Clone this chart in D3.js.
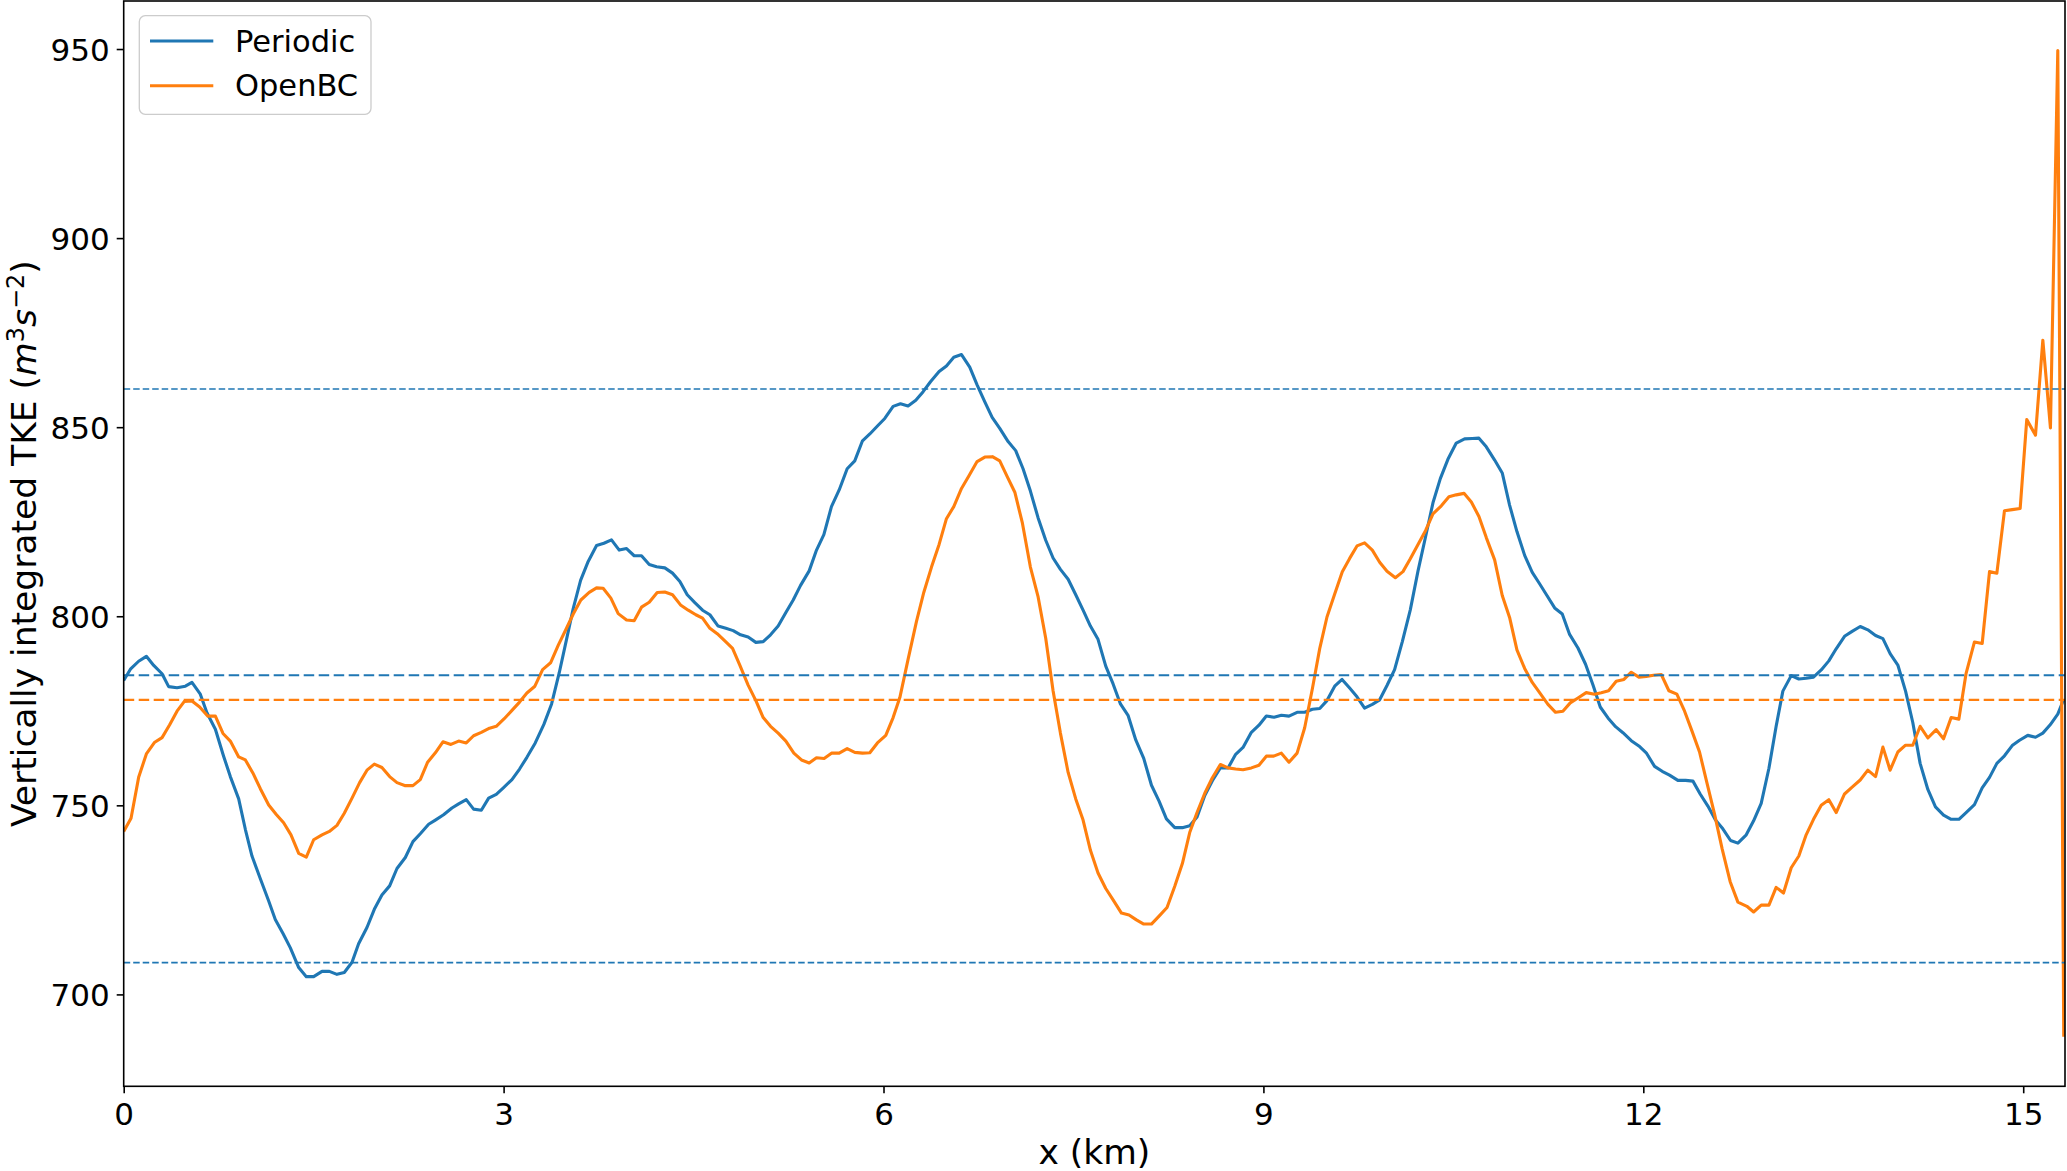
<!DOCTYPE html>
<html>
<head>
<meta charset="utf-8">
<script src="https://cdn.jsdelivr.net/npm/d3@7"></script>
<style>
  body { margin: 0; background: #fff; }
  text { font-family: "DejaVu Sans", sans-serif; fill: #000; }
</style>
</head>
<body>
<div id="chart"></div>
<script>
// Data: x in km, TKE in m^3 s^-2
const periodicX = [0, 0.053, 0.118, 0.179, 0.237, 0.303, 0.355, 0.421, 0.487, 0.539, 0.605, 0.658, 0.724, 0.789, 0.842, 0.908, 0.961, 1.013, 1.079, 1.145, 1.197, 1.258, 1.316, 1.382, 1.442, 1.5, 1.566, 1.624, 1.684, 1.742, 1.803, 1.855, 1.921, 1.979, 2.039, 2.1, 2.158, 2.224, 2.284, 2.342, 2.408, 2.461, 2.526, 2.592, 2.645, 2.705, 2.763, 2.824, 2.882, 2.942, 3.0, 3.066, 3.126, 3.184, 3.25, 3.318, 3.379, 3.439, 3.497, 3.55, 3.608, 3.668, 3.734, 3.792, 3.852, 3.913, 3.971, 4.031, 4.089, 4.15, 4.208, 4.273, 4.334, 4.392, 4.45, 4.51, 4.571, 4.629, 4.694, 4.755, 4.813, 4.871, 4.931, 4.992, 5.05, 5.108, 5.168, 5.229, 5.287, 5.344, 5.413, 5.471, 5.529, 5.589, 5.65, 5.713, 5.773, 5.834, 5.892, 5.952, 6.01, 6.076, 6.134, 6.194, 6.255, 6.313, 6.371, 6.439, 6.497, 6.555, 6.616, 6.681, 6.739, 6.8, 6.858, 6.918, 6.984, 7.044, 7.102, 7.16, 7.221, 7.281, 7.339, 7.397, 7.458, 7.518, 7.576, 7.634, 7.694, 7.755, 7.813, 7.871, 7.931, 7.992, 8.055, 8.116, 8.176, 8.234, 8.3, 8.36, 8.418, 8.476, 8.537, 8.597, 8.66, 8.721, 8.781, 8.839, 8.905, 8.965, 9.023, 9.084, 9.142, 9.202, 9.266, 9.326, 9.387, 9.445, 9.502, 9.563, 9.621, 9.681, 9.739, 9.799, 9.86, 9.918, 9.976, 10.036, 10.097, 10.16, 10.221, 10.281, 10.339, 10.397, 10.457, 10.523, 10.589, 10.649, 10.702, 10.76, 10.826, 10.886, 10.944, 11.002, 11.063, 11.123, 11.181, 11.239, 11.3, 11.36, 11.418, 11.484, 11.544, 11.602, 11.66, 11.721, 11.781, 11.839, 11.905, 11.965, 12.023, 12.089, 12.149, 12.207, 12.273, 12.334, 12.392, 12.449, 12.51, 12.57, 12.628, 12.689, 12.747, 12.813, 12.871, 12.931, 12.992, 13.049, 13.102, 13.168, 13.228, 13.286, 13.344, 13.405, 13.465, 13.523, 13.589, 13.649, 13.713, 13.773, 13.834, 13.892, 13.949, 14.01, 14.071, 14.128, 14.186, 14.247, 14.307, 14.371, 14.431, 14.492, 14.549, 14.615, 14.676, 14.734, 14.792, 14.852, 14.913, 14.971, 15.036, 15.097, 15.155, 15.213, 15.273, 15.32];
const periodicTKE = [783.0, 786.0, 788.1, 789.4, 787.0, 784.8, 781.4, 781.1, 781.5, 782.5, 779.4, 774.4, 770.1, 763.0, 757.6, 751.7, 743.6, 736.6, 730.6, 724.7, 719.8, 716.1, 712.3, 707.1, 704.7, 704.7, 706.1, 706.1, 705.3, 705.8, 708.5, 713.4, 717.7, 722.5, 726.3, 728.7, 733.3, 736.2, 740.4, 742.5, 745.0, 746.1, 747.5, 749.3, 750.4, 751.5, 749.0, 748.7, 751.9, 752.9, 754.7, 756.8, 759.6, 762.7, 766.5, 771.4, 776.8, 785.0, 793.9, 802.1, 809.5, 814.5, 818.7, 819.3, 820.2, 817.5, 817.9, 816.0, 816.0, 813.7, 813.1, 812.8, 811.4, 809.2, 805.7, 803.6, 801.6, 800.4, 797.4, 796.8, 796.2, 795.1, 794.5, 793.1, 793.3, 795.1, 797.4, 801.0, 804.3, 808.1, 812.0, 817.5, 821.6, 829.0, 833.4, 839.0, 841.1, 846.4, 848.2, 850.3, 852.3, 855.5, 856.2, 855.6, 857.1, 859.4, 862.0, 864.7, 866.2, 868.5, 869.2, 865.9, 861.2, 856.7, 852.6, 849.7, 846.2, 843.8, 839.0, 833.1, 826.0, 820.1, 815.4, 812.4, 809.8, 805.7, 801.6, 797.4, 793.9, 786.8, 782.1, 776.8, 773.8, 767.3, 762.4, 755.3, 751.1, 746.4, 744.1, 744.1, 744.6, 746.9, 752.6, 756.5, 759.9, 759.9, 763.5, 765.3, 769.3, 771.2, 773.6, 773.3, 773.8, 773.6, 774.6, 774.6, 775.4, 775.6, 777.7, 781.5, 783.3, 781.0, 778.7, 775.7, 776.7, 777.9, 781.7, 785.9, 793.3, 801.7, 812.0, 821.1, 830.0, 836.4, 841.5, 845.8, 846.9, 847.0, 847.1, 844.8, 841.3, 837.9, 829.4, 822.4, 816.1, 811.6, 808.6, 805.5, 802.2, 800.6, 795.2, 791.6, 787.3, 781.9, 776.0, 773.1, 770.8, 769.2, 767.1, 765.7, 763.9, 760.3, 759.0, 758.0, 756.6, 756.6, 756.4, 753.0, 749.8, 746.1, 743.8, 740.7, 740.0, 742.2, 745.9, 750.5, 759.8, 770.9, 780.2, 784.3, 783.4, 783.6, 783.9, 785.8, 788.2, 791.4, 794.7, 796.0, 797.3, 796.4, 794.9, 794.1, 790.1, 787.1, 780.2, 771.9, 761.1, 754.2, 749.6, 747.4, 746.3, 746.3, 748.1, 750.2, 754.6, 757.4, 761.1, 763.1, 765.8, 767.2, 768.5, 768.0, 769.1, 771.3, 774.1, 778.0];

const openX = [0, 0.058, 0.118, 0.179, 0.242, 0.303, 0.363, 0.421, 0.479, 0.539, 0.6, 0.663, 0.724, 0.784, 0.842, 0.908, 0.961, 1.021, 1.079, 1.145, 1.205, 1.263, 1.321, 1.382, 1.442, 1.5, 1.566, 1.624, 1.684, 1.742, 1.803, 1.863, 1.921, 1.979, 2.039, 2.1, 2.158, 2.224, 2.284, 2.342, 2.4, 2.461, 2.521, 2.584, 2.645, 2.705, 2.763, 2.824, 2.889, 2.942, 3.005, 3.066, 3.126, 3.184, 3.247, 3.308, 3.371, 3.431, 3.492, 3.55, 3.61, 3.676, 3.734, 3.786, 3.847, 3.905, 3.971, 4.031, 4.089, 4.15, 4.213, 4.273, 4.334, 4.397, 4.458, 4.518, 4.571, 4.629, 4.687, 4.747, 4.808, 4.866, 4.931, 4.992, 5.05, 5.108, 5.168, 5.229, 5.292, 5.352, 5.413, 5.471, 5.531, 5.589, 5.65, 5.713, 5.773, 5.834, 5.892, 5.952, 6.018, 6.076, 6.129, 6.194, 6.26, 6.318, 6.379, 6.439, 6.497, 6.555, 6.616, 6.676, 6.739, 6.8, 6.86, 6.918, 6.976, 7.037, 7.097, 7.16, 7.221, 7.281, 7.339, 7.397, 7.458, 7.518, 7.576, 7.634, 7.694, 7.755, 7.813, 7.879, 7.939, 7.997, 8.055, 8.116, 8.176, 8.239, 8.3, 8.36, 8.418, 8.476, 8.537, 8.597, 8.66, 8.721, 8.781, 8.839, 8.905, 8.965, 9.023, 9.081, 9.142, 9.202, 9.266, 9.326, 9.387, 9.445, 9.502, 9.563, 9.623, 9.681, 9.739, 9.799, 9.86, 9.918, 9.976, 10.042, 10.102, 10.16, 10.221, 10.281, 10.339, 10.405, 10.465, 10.523, 10.584, 10.642, 10.702, 10.76, 10.826, 10.886, 10.944, 11.002, 11.063, 11.123, 11.181, 11.247, 11.307, 11.365, 11.423, 11.484, 11.549, 11.615, 11.668, 11.726, 11.786, 11.847, 11.905, 11.965, 12.023, 12.081, 12.142, 12.202, 12.265, 12.326, 12.386, 12.444, 12.502, 12.563, 12.623, 12.686, 12.747, 12.818, 12.871, 12.931, 12.992, 13.049, 13.107, 13.168, 13.228, 13.286, 13.344, 13.405, 13.465, 13.523, 13.589, 13.649, 13.713, 13.773, 13.834, 13.892, 13.949, 14.01, 14.071, 14.128, 14.186, 14.247, 14.313, 14.371, 14.431, 14.492, 14.549, 14.615, 14.676, 14.734, 14.792, 14.852, 14.913, 14.976, 15.028, 15.097, 15.155, 15.215, 15.273, 15.32];
const openTKE = [743.1, 746.6, 757.4, 763.6, 766.6, 767.9, 771.3, 774.9, 777.5, 777.6, 776.0, 773.6, 773.6, 769.0, 767.0, 762.8, 762.0, 758.5, 754.4, 750.1, 747.6, 745.4, 742.2, 737.3, 736.3, 740.9, 742.2, 743.1, 744.7, 747.9, 751.9, 756.0, 759.3, 760.9, 760.0, 757.6, 756.0, 755.2, 755.2, 756.8, 761.4, 763.9, 766.8, 766.1, 767.0, 766.5, 768.4, 769.3, 770.4, 770.9, 772.9, 775.1, 777.3, 779.7, 781.5, 785.9, 787.7, 792.3, 796.5, 800.6, 804.3, 806.3, 807.5, 807.4, 804.8, 800.7, 799.0, 798.8, 802.4, 803.7, 806.3, 806.4, 805.7, 803.0, 801.6, 800.4, 799.5, 796.8, 795.4, 793.5, 791.5, 787.0, 781.8, 777.7, 773.2, 770.9, 769.1, 767.0, 763.8, 762.0, 761.2, 762.6, 762.4, 763.8, 763.8, 765.0, 764.0, 763.8, 763.9, 766.5, 768.5, 773.2, 778.5, 788.6, 798.6, 806.3, 813.0, 819.0, 825.8, 829.0, 833.8, 837.2, 840.9, 842.1, 842.2, 841.1, 837.0, 832.8, 824.6, 813.0, 805.1, 794.2, 780.3, 769.1, 758.7, 751.7, 746.1, 738.1, 732.1, 728.0, 725.0, 721.5, 721.0, 719.7, 718.6, 718.6, 720.7, 723.0, 728.6, 734.6, 742.8, 748.1, 753.2, 757.3, 760.8, 759.9, 759.6, 759.4, 759.9, 760.6, 763.0, 763.0, 763.8, 761.4, 763.8, 770.5, 780.9, 791.5, 799.8, 805.9, 811.8, 815.3, 818.6, 819.4, 817.5, 814.3, 811.9, 810.2, 811.8, 815.2, 819.0, 822.7, 827.1, 829.2, 831.6, 832.1, 832.5, 830.2, 826.4, 820.8, 814.9, 805.5, 799.7, 791.1, 786.2, 782.5, 779.8, 776.7, 774.6, 774.9, 777.1, 778.4, 779.8, 779.4, 779.8, 780.3, 782.8, 783.3, 785.2, 783.9, 784.1, 784.4, 784.6, 780.3, 779.4, 774.9, 769.5, 764.1, 756.0, 747.6, 738.4, 729.8, 724.4, 723.3, 721.8, 723.6, 723.6, 728.3, 726.8, 733.5, 736.6, 742.2, 746.3, 750.0, 751.5, 748.1, 753.0, 754.8, 756.7, 759.3, 757.6, 765.4, 759.3, 764.1, 765.9, 765.9, 770.9, 767.8, 770.0, 767.6, 773.2, 772.8, 784.9, 793.2, 792.8, 811.8, 811.4, 827.9, 828.2, 828.5, 852.0, 847.9, 873.0, 849.8, 949.6, 688.8];

// Reference lines
const periodicMean = 784.4;
const openMean = 777.9;
const periodicBand = [860.1, 708.4];

const xTicks = [0, 3, 6, 9, 12, 15];
const yTicks = [700, 750, 800, 850, 900, 950];
const seriesNames = ["Periodic", "OpenBC"];
const colors = ["#1f77b4", "#ff7f0e"];

// Layout
const W = 2067, H = 1171;
const margin = {top: 1, right: 2, bottom: 84.7, left: 123.7};

const svg = d3.select("#chart").append("svg")
    .attr("width", W)
    .attr("height", H)
    .style("display", "block");

svg.append("rect").attr("width", W).attr("height", H).attr("fill", "#fff");

const x = d3.scaleLinear().domain([0, 15.33]).range([margin.left, W - margin.right]);
const y = d3.scaleLinear().domain([675.7, 962.7]).range([H - margin.bottom, margin.top]);

svg.append("clipPath").attr("id", "plotclip")
  .append("rect")
    .attr("x", margin.left).attr("y", margin.top)
    .attr("width", W - margin.right - margin.left)
    .attr("height", H - margin.bottom - margin.top);

const plot = svg.append("g").attr("clip-path", "url(#plotclip)");

const line = d3.line().x(d => x(d[0])).y(d => y(d[1]));

const series = [
    d3.zip(periodicX, periodicTKE),
    d3.zip(openX, openTKE)
];

series.forEach((pts, i) => {
    plot.append("path")
        .datum(pts)
        .attr("d", line)
        .attr("fill", "none")
        .attr("stroke", colors[i])
        .attr("stroke-width", 3.1)
        .attr("stroke-linejoin", "round");
});

// horizontal reference lines
const hlines = [
    {v: periodicBand[0], c: colors[0], w: 1.6, dash: "6.5,3"},
    {v: periodicBand[1], c: colors[0], w: 1.6, dash: "6.5,3"},
    {v: periodicMean, c: colors[0], w: 2.2, dash: "10.5,4.5"},
    {v: openMean, c: colors[1], w: 2.2, dash: "10.5,4.5"}
];
plot.selectAll(".hline").data(hlines).enter()
  .append("line")
    .attr("class", "hline")
    .attr("x1", margin.left).attr("x2", W - margin.right)
    .attr("y1", d => y(d.v)).attr("y2", d => y(d.v))
    .attr("stroke", d => d.c)
    .attr("stroke-width", d => d.w)
    .attr("stroke-dasharray", d => d.dash);

// Axes
const xAxis = svg.append("g")
    .attr("transform", `translate(0,${H - margin.bottom})`)
    .call(d3.axisBottom(x).tickValues(xTicks).tickFormat(d3.format("d")).tickSize(7).tickPadding(9.5).tickSizeOuter(0));
const yAxis = svg.append("g")
    .attr("transform", `translate(${margin.left},0)`)
    .call(d3.axisLeft(y).tickValues(yTicks).tickFormat(d3.format("d")).tickSize(7).tickPadding(7).tickSizeOuter(0));

[xAxis, yAxis].forEach(g => {
    g.select(".domain").remove();
    g.selectAll(".tick line").attr("stroke", "#000").attr("stroke-width", 1.6);
    g.selectAll(".tick text")
        .attr("font-family", "DejaVu Sans, sans-serif")
        .attr("font-size", 31)
        .attr("fill", "#000");
});
yAxis.selectAll(".tick text").attr("dy", "0.36em");

// Frame
svg.append("rect")
    .attr("x", margin.left).attr("y", margin.top)
    .attr("width", W - margin.right - margin.left)
    .attr("height", H - margin.bottom - margin.top)
    .attr("fill", "none")
    .attr("stroke", "#000")
    .attr("stroke-width", 1.6);

// Axis labels
svg.append("text")
    .attr("x", (margin.left + W - margin.right) / 2)
    .attr("y", 1164)
    .attr("text-anchor", "middle")
    .attr("font-size", 34.5)
    .text("x (km)");

const ylab = svg.append("text")
    .attr("transform", `translate(36,${(margin.top + H - margin.bottom) / 2}) rotate(-90)`)
    .attr("text-anchor", "middle")
    .attr("font-size", 34.5);
ylab.append("tspan").text("Vertically integrated TKE (");
ylab.append("tspan").attr("font-style", "italic").text("m");
ylab.append("tspan").attr("dy", -12).attr("font-size", 24).text("3");
ylab.append("tspan").attr("dy", 12).attr("font-style", "italic").text("s");
ylab.append("tspan").attr("dy", -12).attr("font-size", 24).text("\u22122");
ylab.append("tspan").attr("dy", 12).text(")");

// Legend
const legend = svg.append("g");
legend.append("rect")
    .attr("x", 139.3).attr("y", 15.7)
    .attr("width", 231.7).attr("height", 98.6)
    .attr("rx", 6).attr("ry", 6)
    .attr("fill", "#fff").attr("fill-opacity", 0.8)
    .attr("stroke", "#cccccc").attr("stroke-width", 1.3);

seriesNames.forEach((name, i) => {
    const ly = 41 + i * 44.7;
    legend.append("line")
        .attr("x1", 150).attr("x2", 213.3)
        .attr("y1", ly).attr("y2", ly)
        .attr("stroke", colors[i]).attr("stroke-width", 3);
    legend.append("text")
        .attr("x", 235).attr("y", ly + 10.7)
        .attr("font-size", 30.5)
        .text(name);
});
</script>
</body>
</html>
